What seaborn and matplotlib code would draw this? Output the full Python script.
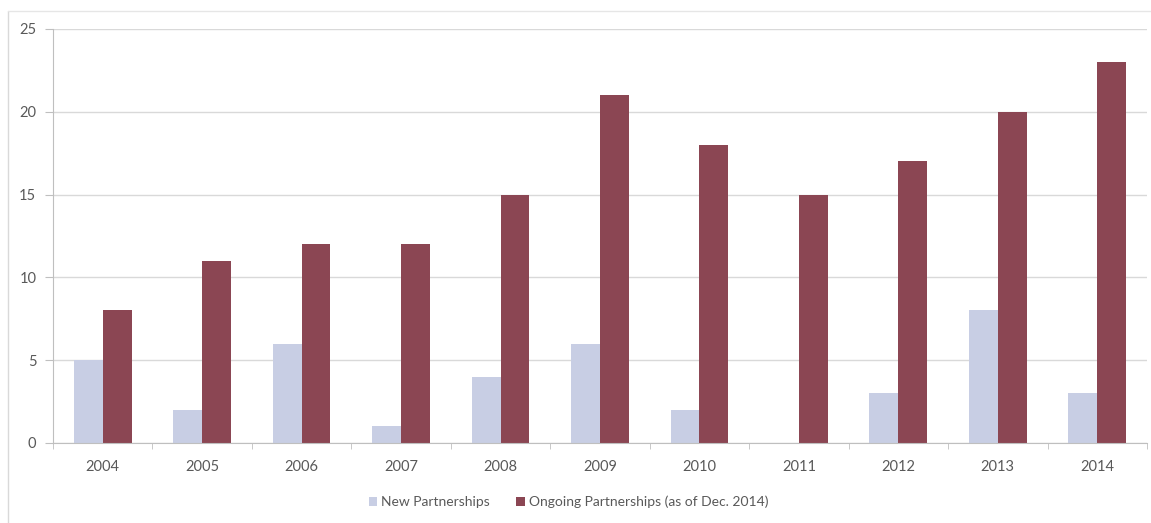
import pandas as pd
import numpy as np
import seaborn as sns
import matplotlib.pyplot as plt
from matplotlib.lines import Line2D
from matplotlib.patches import Patch

# data
years = ["2004", "2005", "2006", "2007", "2008", "2009", "2010", "2011", "2012", "2013", "2014"]
new_partnerships = [5, 2, 6, 1, 4, 6, 2, 0, 3, 8, 3]
ongoing_partnerships = [8, 11, 12, 12, 15, 21, 18, 15, 17, 20, 23]
series_names = ["New Partnerships", "Ongoing Partnerships (as of Dec. 2014)"]

df = pd.DataFrame({
    "year": years * 2,
    "value": new_partnerships + ongoing_partnerships,
    "series": [series_names[0]] * len(years) + [series_names[1]] * len(years),
})

sns.set_style("white")
plt.rcParams['font.family'] = ['Lato', 'DejaVu Sans']
text_grey = "#595959"
colours = ["#C8CEE4", "#8B4653"]

fig = plt.figure(figsize=(11.51, 5.23), dpi=100)
ax = fig.add_axes([0.046, 0.153, 0.9505, 0.7916])

sns.barplot(data=df, x="year", y="value", hue="series", palette=colours,
            width=0.58, gap=0, ax=ax, legend=False, saturation=1, linewidth=0)

ax.set_ylim(0, 25)
ax.set_xlim(-0.5, len(years) - 0.5)
ax.set_yticks(range(0, 26, 5))
ax.yaxis.grid(True, color="#D9D9D9", linewidth=1)
ax.set_axisbelow(True)
ax.set_xlabel("")
ax.set_ylabel("")

for side in ["top", "right"]:
    ax.spines[side].set_visible(False)
ax.spines["left"].set_color("#BFBFBF")
ax.spines["bottom"].set_color("#BFBFBF")

# y ticks on the left, x ticks between categories
ax.tick_params(axis="y", left=True, length=6, color="#BFBFBF", labelsize=10.5, labelcolor=text_grey, pad=6)
ax.tick_params(axis="x", bottom=False, labelsize=10.5, labelcolor=text_grey, pad=9)
ax.set_xticks(np.arange(-0.5, len(years), 1), minor=True)
ax.tick_params(axis="x", which="minor", bottom=True, length=4.5, color="#BFBFBF")

handles = [Patch(facecolor=c, edgecolor="none") for c in colours]
fig.legend(handles, series_names, loc="center", bbox_to_anchor=(0.494, 0.04), ncol=2,
           frameon=False, fontsize=10, labelcolor=text_grey, handlelength=0.6,
           handleheight=0.6, handletextpad=0.3, columnspacing=1.9)

# light frame lines at top and left of the picture
fig.add_artist(Line2D([0.007, 0.007], [0, 1 - 11 / 523], color="#D9D9D9", linewidth=1))
fig.add_artist(Line2D([0.007, 1], [1 - 11 / 523, 1 - 11 / 523], color="#E6E6E6", linewidth=1))

fig.savefig("out.png", dpi=100)
